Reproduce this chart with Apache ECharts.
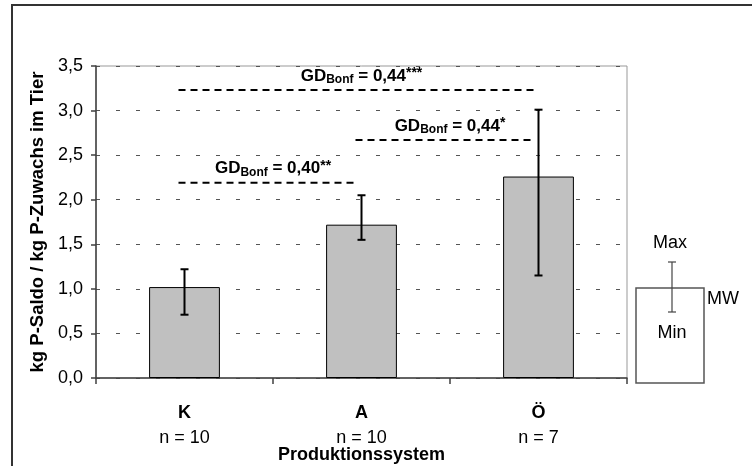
<!DOCTYPE html>
<html>
<head>
<meta charset="utf-8">
<script src="https://cdn.jsdelivr.net/npm/echarts@6/dist/echarts.min.js"></script>
<style>
  html, body { margin: 0; padding: 0; background: #fff; }
  #chart { width: 752px; height: 466px; }
</style>
</head>
<body>
<div id="chart"></div>
<script>
// Produktionssysteme und Stichprobengrößen
var categories = ['K', 'A', 'Ö'];
var sampleSizes = [10, 10, 7];

// Mittelwert, Minimum und Maximum (kg P-Saldo / kg P-Zuwachs im Tier)
var meanValues = [1.02, 1.72, 2.26];
var minValues = [0.71, 1.55, 1.15];
var maxValues = [1.22, 2.05, 3.01];

// Grenzdifferenzen (Bonferroni): Vergleichspaare, Höhe der Linie, Beschriftung
var gdFrom = [0, 1, 0];
var gdTo = [2, 2, 1];
var gdLevel = [3.23, 2.67, 2.19];
var gdValue = ['0,44', '0,44', '0,40'];
var gdStars = ['***', '*', '**'];

// Y-Achse
var yMin = 0, yMax = 3.5, yStep = 0.5;

var FONT = '"Liberation Sans", Arial, Helvetica, sans-serif';
var FS = 18;

var chart = echarts.init(document.getElementById('chart'), null, { renderer: 'canvas' });

var errorData = categories.map(function (c, i) { return [i, minValues[i], maxValues[i]]; });
var gdData = gdFrom.map(function (f, i) { return [f, gdTo[i], gdLevel[i], i]; });

var option = {
  backgroundColor: '#ffffff',
  animation: false,
  textStyle: { fontFamily: FONT, color: '#000' },
  grid: {
    left: 96, top: 66, right: 125, bottom: 88,
    containLabel: false,
    outerBoundsMode: 'none',
    show: true,
    borderColor: '#999999',
    borderWidth: 1
  },
  xAxis: {
    type: 'category',
    data: categories,
    boundaryGap: true,
    axisLine: { lineStyle: { color: '#404040', width: 1.5 } },
    axisTick: { show: true, length: 6, interval: 0, lineStyle: { color: '#404040', width: 1.5 } },
    axisLabel: {
      margin: 23,
      interval: 0,
      formatter: function (v, i) {
        return '{c|' + v + '}\n{n|n = ' + sampleSizes[i] + '}';
      },
      rich: {
        c: { fontFamily: FONT, fontSize: FS, fontWeight: 'bold', color: '#000', lineHeight: 25 },
        n: { fontFamily: FONT, fontSize: FS, color: '#000', lineHeight: 25 }
      }
    },
    name: 'Produktionssystem',
    nameLocation: 'middle',
    nameGap: 68,
    nameMoveOverlap: false,
    nameTextStyle: { fontFamily: FONT, fontSize: FS, fontWeight: 'bold', color: '#000' },
    splitLine: { show: false }
  },
  yAxis: {
    type: 'value',
    min: yMin, max: yMax, interval: yStep,
    axisLine: { show: true, lineStyle: { color: '#404040', width: 1.5 } },
    axisTick: { show: true, length: 5, lineStyle: { color: '#404040', width: 1.5 } },
    axisLabel: {
      margin: 13,
      fontFamily: FONT, fontSize: FS, color: '#000',
      formatter: function (v) { return v.toFixed(1).replace('.', ','); }
    },
    splitLine: { show: true, lineStyle: { color: '#555555', width: 1, type: [4, 16] } },
    name: 'kg P-Saldo / kg P-Zuwachs im Tier',
    nameLocation: 'middle',
    nameRotate: 90,
    nameGap: 49,
    nameMoveOverlap: false,
    nameTextStyle: { fontFamily: FONT, fontSize: 18.5, fontWeight: 'bold', color: '#000' }
  },
  series: [
    {
      type: 'bar',
      data: meanValues,
      barWidth: '40%',
      itemStyle: { color: '#c0c0c0', borderColor: '#000', borderWidth: 1 },
      z: 2
    },
    {
      // Spannweite Min–Max als Fehlerbalken
      type: 'custom',
      data: errorData,
      z: 3,
      renderItem: function (params, api) {
        var lo = api.coord([api.value(0), api.value(1)]);
        var hi = api.coord([api.value(0), api.value(2)]);
        var cap = 4;
        var st = { stroke: '#000', lineWidth: 2 };
        return {
          type: 'group',
          children: [
            { type: 'line', shape: { x1: lo[0], y1: lo[1], x2: hi[0], y2: hi[1] }, style: st },
            { type: 'line', shape: { x1: hi[0] - cap, y1: hi[1], x2: hi[0] + cap, y2: hi[1] }, style: st },
            { type: 'line', shape: { x1: lo[0] - cap, y1: lo[1], x2: lo[0] + cap, y2: lo[1] }, style: st }
          ]
        };
      }
    },
    {
      // Grenzdifferenzen als gestrichelte Linien mit Beschriftung
      type: 'custom',
      data: gdData,
      z: 4,
      clip: false,
      renderItem: function (params, api) {
        var a = api.coord([api.value(0), api.value(2)]);
        var b = api.coord([api.value(1), api.value(2)]);
        var k = api.value(3);
        return {
          type: 'group',
          children: [
            {
              type: 'line',
              shape: { x1: a[0] - 6, y1: a[1], x2: b[0] - 4, y2: b[1] },
              style: { stroke: '#000', lineWidth: 2, lineDash: [7, 5] }
            },
            {
              type: 'text',
              style: {
                x: (a[0] + b[0]) / 2,
                y: a[1] - 14,
                align: 'center',
                verticalAlign: 'middle',
                text: '{g|GD}{s|Bonf}{g| = ' + gdValue[k] + '}{p|' + gdStars[k] + '}',
                rich: {
                  g: { fontFamily: FONT, fontSize: 17, fontWeight: 'bold', fill: '#000', lineHeight: 20, verticalAlign: 'middle' },
                  s: { fontFamily: FONT, fontSize: 12, fontWeight: 'bold', fill: '#000', lineHeight: 12, verticalAlign: 'bottom' },
                  p: { fontFamily: FONT, fontSize: 14, fontWeight: 'bold', fill: '#000', lineHeight: 14, verticalAlign: 'top' }
                }
              }
            }
          ]
        };
      }
    }
  ],
  graphic: [
    {
      // Rahmen um die gesamte Abbildung
      type: 'rect',
      silent: true,
      shape: { x: 12, y: 5, width: 900, height: 600 },
      style: { fill: null, stroke: '#333', lineWidth: 2 },
      z: 10
    },
    {
      // Legende: Mittelwert mit Min/Max
      type: 'group',
      silent: true,
      children: [
        { type: 'rect', shape: { x: 636, y: 288, width: 68, height: 95 }, style: { fill: '#fff', stroke: '#555', lineWidth: 1.5 } },
        { type: 'line', shape: { x1: 672, y1: 262, x2: 672, y2: 312 }, style: { stroke: '#444', lineWidth: 1.2 } },
        { type: 'line', shape: { x1: 668, y1: 262, x2: 676, y2: 262 }, style: { stroke: '#444', lineWidth: 1.2 } },
        { type: 'line', shape: { x1: 668, y1: 312, x2: 676, y2: 312 }, style: { stroke: '#444', lineWidth: 1.2 } },
        { type: 'text', style: { x: 670, y: 243, text: 'Max', align: 'center', verticalAlign: 'middle', font: FS + 'px ' + FONT, fill: '#000' } },
        { type: 'text', style: { x: 707, y: 299, text: 'MW', align: 'left', verticalAlign: 'middle', font: FS + 'px ' + FONT, fill: '#000' } },
        { type: 'text', style: { x: 672, y: 333, text: 'Min', align: 'center', verticalAlign: 'middle', font: FS + 'px ' + FONT, fill: '#000' } }
      ]
    }
  ]
};

chart.setOption(option);
</script>
</body>
</html>
